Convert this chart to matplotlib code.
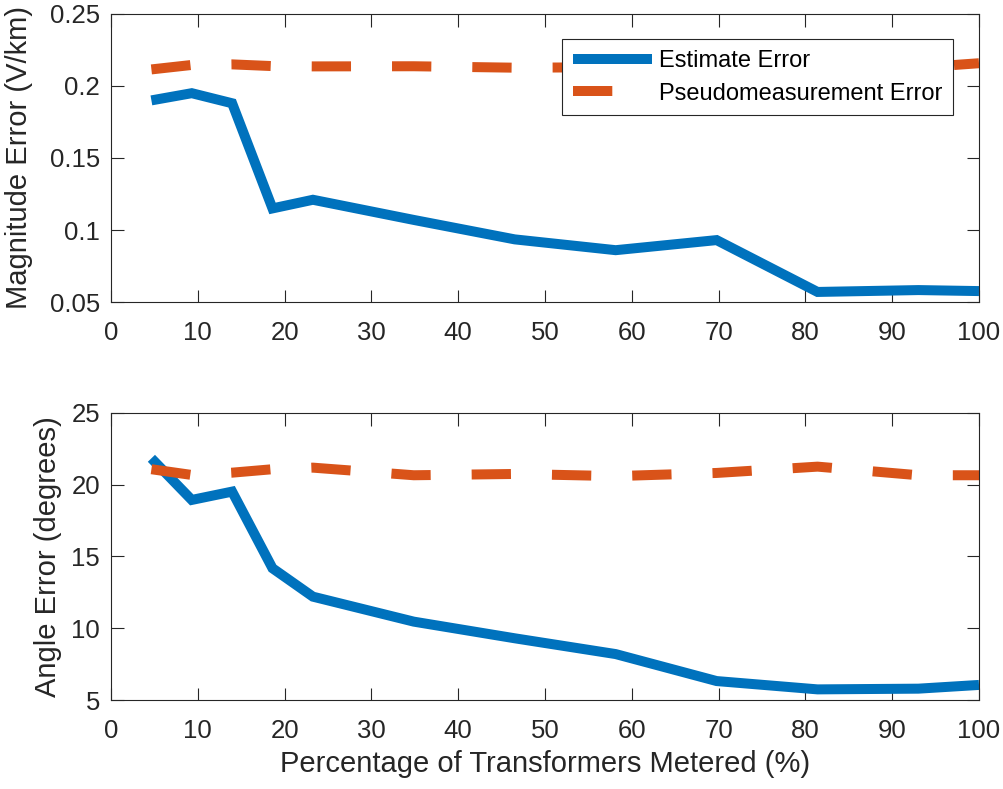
import matplotlib
matplotlib.use("Agg")
import matplotlib.pyplot as plt

# ---------- data ----------
pct_metered = [4.65, 9.30, 13.95, 18.60, 23.26, 34.88, 46.51, 58.14, 69.77, 81.40, 93.02, 100.0]

mag_estimate = [0.190, 0.195, 0.188, 0.115, 0.121, 0.107, 0.0935, 0.086, 0.093, 0.057, 0.0583, 0.0576]
mag_pseudo   = [0.2115, 0.2146, 0.2150, 0.2138, 0.2136, 0.2137, 0.2127, 0.2130, 0.2132, 0.2133, 0.2128, 0.2158]

ang_estimate = [21.84, 18.94, 19.52, 14.18, 12.20, 10.46, 9.30, 8.20, 6.32, 5.74, 5.79, 6.05]
ang_pseudo   = [21.08, 20.68, 20.84, 21.08, 21.19, 20.66, 20.75, 20.60, 20.82, 21.26, 20.66, 20.66]

xticks = list(range(0, 101, 10))
mag_ticks = [0.05, 0.1, 0.15, 0.2, 0.25]
mag_ticklabels = ["0.05", "0.1", "0.15", "0.2", "0.25"]
ang_ticks = [5, 10, 15, 20, 25]

# ---------- style (MATLAB-ish) ----------
BLUE = "#0072BD"
ORANGE = "#D95319"
DARK = "#262626"
plt.rcParams["font.family"] = ["Liberation Sans", "DejaVu Sans"]
plt.rcParams["text.color"] = DARK
plt.rcParams["axes.labelcolor"] = DARK
plt.rcParams["xtick.color"] = DARK
plt.rcParams["ytick.color"] = DARK

LW = 7.2
DASH = (3.93, 4.1)
TICK_FS = 18.5
LABEL_FS = 21

fig = plt.figure(figsize=(10.04, 7.89), dpi=100)
ax1 = fig.add_axes([0.1106, 0.6172, 0.8645, 0.3651])
ax2 = fig.add_axes([0.1106, 0.1128, 0.8645, 0.3638])


def style_axes(ax):
    for s in ax.spines.values():
        s.set_color(DARK)
        s.set_linewidth(0.8)
    ax.tick_params(direction="in", length=9, width=0.8, labelsize=TICK_FS,
                   top=True, right=True)
    ax.tick_params(axis="y", pad=8)
    ax.tick_params(axis="x", pad=14)
    ax.set_xlim(0, 100)
    ax.set_xticks(xticks)


# top panel: magnitude error
ax1.plot(pct_metered, mag_estimate, color=BLUE, lw=LW,
         solid_capstyle="butt", solid_joinstyle="miter", label="Estimate Error")
ax1.plot(pct_metered, mag_pseudo, color=ORANGE, lw=LW, dashes=DASH,
         dash_capstyle="butt", label="Pseudomeasurement Error")
style_axes(ax1)
ax1.set_ylim(0.05, 0.25)
ax1.set_yticks(mag_ticks)
ax1.set_yticklabels(mag_ticklabels)
ax1.set_ylabel("Magnitude Error (V/km)", fontsize=LABEL_FS)
ax1.yaxis.set_label_coords(-0.09, 0.5)
leg = ax1.legend(loc="upper right", bbox_to_anchor=(0.970, 0.912), borderaxespad=0,
                 fontsize=17, frameon=True, fancybox=False, edgecolor=DARK,
                 framealpha=1, handlelength=3.36, handletextpad=0.3,
                 borderpad=0.45, labelspacing=0.45)
leg.get_frame().set_linewidth(0.8)
for t in leg.get_texts():
    t.set_color("black")

# bottom panel: angle error
ax2.plot(pct_metered, ang_estimate, color=BLUE, lw=LW,
         solid_capstyle="butt", solid_joinstyle="miter")
ax2.plot(pct_metered, ang_pseudo, color=ORANGE, lw=LW, dashes=DASH,
         dash_capstyle="butt")
style_axes(ax2)
ax2.set_ylim(5, 25)
ax2.set_yticks(ang_ticks)
ax2.set_ylabel("Angle Error (degrees)", fontsize=LABEL_FS)
ax2.yaxis.set_label_coords(-0.0565, 0.5)
ax2.set_xlabel("Percentage of Transformers Metered (%)", fontsize=LABEL_FS)
ax2.xaxis.set_label_coords(0.5, -0.175)

fig.savefig("out.png", dpi=100)
